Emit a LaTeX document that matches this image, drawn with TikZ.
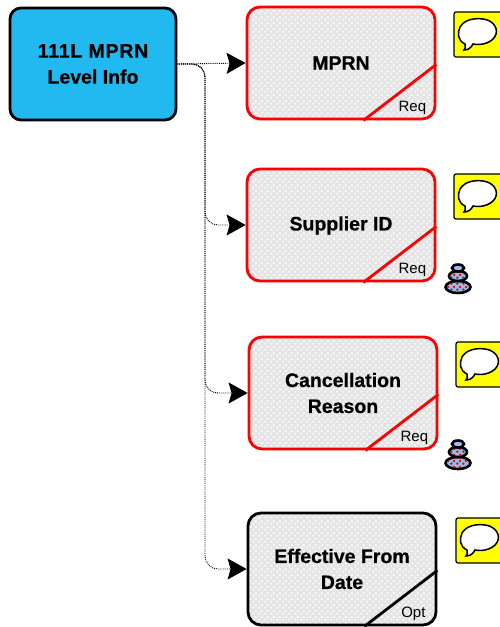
\documentclass[tikz,border=0pt]{standalone}
\usepackage{fontspec}
\setmainfont{Liberation Sans}[BoldFeatures={FakeBold=0.7}]
\usetikzlibrary{arrows.meta,patterns}
\definecolor{levelblue}{RGB}{34,184,240}
\definecolor{noteyellow}{RGB}{255,255,0}
\definecolor{stackblue}{RGB}{150,190,235}
\pgfdeclarepatternformonly{meshdots}{\pgfpointorigin}{\pgfpoint{6pt}{6pt}}{\pgfpoint{6pt}{6pt}}{
  \pgfpathcircle{\pgfpoint{1.5pt}{1.5pt}}{1.2pt}
  \pgfpathcircle{\pgfpoint{4.5pt}{4.5pt}}{1.2pt}
  \pgfusepath{fill}
}
\pgfdeclarepatternformonly{stackdots}{\pgfpointorigin}{\pgfpoint{6pt}{6pt}}{\pgfpoint{6pt}{6pt}}{
  \pgfpathcircle{\pgfpoint{1.5pt}{1.5pt}}{1.5pt}
  \pgfpathcircle{\pgfpoint{4.5pt}{4.5pt}}{1.5pt}
  \pgfusepath{fill}
}
\tikzset{
  elembox/.style={draw=#1,line width=2.8pt,rounded corners=13pt,minimum width=188pt,minimum height=112pt,
    align=center,font=\fontsize{19.5}{26}\selectfont\bfseries,
    preaction={fill=gray!20},pattern=meshdots,pattern color=white},
  levelbox/.style={draw=black,line width=2.8pt,rounded corners=11pt,fill=levelblue,minimum width=166pt,
    minimum height=112pt,align=center,font=\fontsize{19.5}{26}\selectfont\bfseries},
  tagtext/.style={font=\fontsize{15}{18}\selectfont,inner sep=0pt},
  link/.style={densely dotted,line width=0.9pt,rounded corners=13pt,-{Stealth[length=19pt,width=21pt,inset=3pt]}},
  notepic/.pic={
    \draw[fill=noteyellow,line width=1.2pt,rounded corners=2pt] (0,0) rectangle (48,45);
    \draw[fill=white,line width=1.5pt] (11,32) .. controls (4,29) and (3,21) .. (6,15)
      .. controls (11,7) and (21,6) .. (29,7) .. controls (38,8) and (44,15) .. (42,22)
      .. controls (40,30) and (28,34) .. (19,32) .. controls (17,36) and (14,38) .. (10,38)
      .. controls (11,37) and (12,35) .. (11,32) -- cycle;
  },
  stackpic/.pic={
    \draw[fill=stackblue,line width=2.6pt] (0,8) ellipse (12.5 and 6);
    \fill[pattern=stackdots,pattern color=red] (0,8) ellipse (11 and 5);
    \draw[fill=stackblue,line width=2.6pt] (0,-3) ellipse (9 and 5);
    \fill[pattern=stackdots,pattern color=red] (0,-3) ellipse (8 and 4);
    \draw[fill=stackblue,line width=2.6pt] (0,-11) ellipse (6 and 3.5);
  },
}
\begin{document}
\begin{tikzpicture}[x=1pt,y=-1pt]
\useasboundingbox (0,0) rectangle (499,627);
\fill[white] (0,0) rectangle (499,627);
\node[levelbox] (level) at (93,64) {\addfontfeatures{LetterSpace=4}111L MPRN\\Level Info};
\node[elembox=red] (mprn) at (341,63) {MPRN};
\node[elembox=red,text height=15pt] (supplier) at (341,225) {Supplier ID};
\node[elembox=red] (reason) at (343,393) {Cancellation\\Reason};
\node[elembox=black] (effective) at (342,569) {Effective From\\Date};
% corner tags
\foreach \elem/\col/\tag in {mprn/red/Req,supplier/red/Req,reason/red/Req,effective/black/Opt} {
  \draw[\col,line width=2.8pt] ([xshift=-73pt]\elem.south east) -- ([yshift=56pt]\elem.south east);
  \node[tagtext] (\elem tag) at ([xshift=-24pt,yshift=13pt]\elem.south east) {\tag};
}
% connectors
\coordinate (bus) at (205,64);
\draw[link] (level.east) -- (mprn.west);
\draw[link] (level.east) -- (bus) |- (supplier.west);
\draw[link] (level.east) -- (bus) |- (reason.west);
\draw[link] (level.east) -- (bus) |- (effective.west);
% icons
\pic at (454,12) {notepic};
\pic at (454,174) {notepic};
\pic at (456,342) {notepic};
\pic at (456,518) {notepic};
\pic at (458,279) {stackpic};
\pic at (458,455) {stackpic};
\end{tikzpicture}
\end{document}
